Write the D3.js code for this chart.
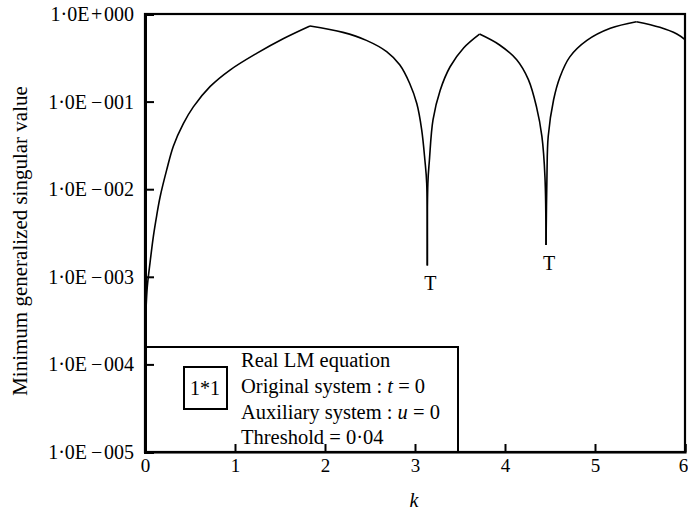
<!DOCTYPE html>
<html>
<head>
<meta charset="utf-8">
<script src="https://cdn.jsdelivr.net/npm/d3@7"></script>
<style>
  html, body { margin: 0; padding: 0; background: #fff; }
  svg { display: block; font-family: "Liberation Serif", "DejaVu Serif", serif; }
</style>
</head>
<body>
<svg id="chart" width="688" height="519"></svg>
<script>
// Wavenumber k
const kValues = [
  0, 0.004, 0.011, 0.026, 0.056, 0.093, 0.13, 0.167, 0.241, 0.315, 0.426, 0.537,
  0.722, 0.944, 1.24, 1.54, 1.833, 2.20, 2.46, 2.685, 2.83, 2.94, 3.02,
  3.074, 3.11, 3.13, 3.137, 3.143, 3.16, 3.20, 3.28, 3.39, 3.54, 3.717,
  3.94, 4.13, 4.26, 4.35, 4.41, 4.444, 4.456, 4.466, 4.48, 4.54, 4.61,
  4.72, 4.91, 5.17, 5.46, 5.72, 5.91, 6.0
];
// Minimum generalized singular value at each k
const sigmaValues = [
  1e-5, 2.5e-4, 4.2e-4, 7.8e-4, 1.45e-3, 2.9e-3, 5.0e-3, 8.1e-3, 1.66e-2, 3.1e-2, 5.6e-2, 8.7e-2,
  0.148, 0.229, 0.355, 0.525, 0.73, 0.617, 0.50, 0.372, 0.263, 0.162, 0.095,
  0.048, 0.0214, 0.0117, 0.00135, 0.0117, 0.0214, 0.062, 0.135, 0.25, 0.41, 0.59,
  0.443, 0.30, 0.178, 0.087, 0.040, 0.0138, 0.0023, 0.0138, 0.040, 0.105, 0.19,
  0.324, 0.50, 0.687, 0.817, 0.705, 0.59, 0.51
];
// k values where two branches meet (sharp corners of the curve)
const cornerK = [1.833, 3.137, 3.717, 4.456, 5.46];
// Axis ticks
const yTicks = [1e0, 1e-1, 1e-2, 1e-3, 1e-4, 1e-5];
const yTickLabels = ["1·0E\u200A+\u200A000", "1·0E\u2009−\u200A001", "1·0E\u2009−\u200A002",
                     "1·0E\u2009−\u200A003", "1·0E\u2009−\u200A004", "1·0E\u2009−\u200A005"];
const xTicks = [0, 1, 2, 3, 4, 5, 6];
// Marked transmission points
const markK = [3.137, 4.456];
const markSigma = [0.00135, 0.0023];

const svg = d3.select("#chart");
const m = { left: 145, top: 14, right: 3, bottom: 67 };
const W = 688, H = 519;
const x = d3.scaleLinear().domain([0, 6]).range([m.left, W - m.right]);
const y = d3.scaleLog().domain([1e-5, 1]).range([H - m.bottom, m.top]);

const data = kValues.map((k, i) => ({ k, s: sigmaValues[i] }));

// split the curve into smooth branches at the corners
const branches = [];
let cur = [];
data.forEach(d => {
  cur.push(d);
  if (cornerK.includes(d.k)) { branches.push(cur); cur = [d]; }
});
if (cur.length > 1) branches.push(cur);

const line = d3.line()
  .x(d => x(d.k))
  .y(d => y(d.s))
  .curve(d3.curveCatmullRom.alpha(0.5));
svg.append("g").selectAll("path")
  .data(branches)
  .join("path")
  .attr("d", line)
  .attr("fill", "none")
  .attr("stroke", "#000")
  .attr("stroke-width", 1.6)
  .attr("stroke-linejoin", "miter");

// legend box
const lg = svg.append("g");
lg.append("rect")
  .attr("x", x(0)).attr("y", 347)
  .attr("width", 313).attr("height", y(1e-5) - 347)
  .attr("fill", "none").attr("stroke", "#000").attr("stroke-width", 2);
lg.append("rect")
  .attr("x", 184).attr("y", 367).attr("width", 43).attr("height", 42)
  .attr("fill", "none").attr("stroke", "#000").attr("stroke-width", 2);
lg.append("text").attr("x", 205).attr("y", 395).attr("text-anchor", "middle")
  .attr("font-size", 20).text("1*1");
const legendLines = [
  ["Real LM equation"],
  ["Original system : ", ["t", true], " = 0"],
  ["Auxiliary system : ", ["u", true], " = 0"],
  ["Threshold = 0·04"]
];
const legendBase = [367, 393, 419, 444];
legendLines.forEach((parts, i) => {
  const t = lg.append("text").attr("x", 241).attr("y", legendBase[i]).attr("font-size", 20.5);
  parts.forEach(p => {
    if (Array.isArray(p)) t.append("tspan").attr("font-style", "italic").text(p[0]);
    else t.append("tspan").text(p);
  });
});

// frame
svg.append("rect")
  .attr("x", x(0)).attr("y", y(1))
  .attr("width", x(6) - x(0)).attr("height", y(1e-5) - y(1))
  .attr("fill", "none").attr("stroke", "#000").attr("stroke-width", 2.2);

// y axis (ticks inward)
const yAxis = d3.axisLeft(y).tickValues(yTicks).tickSize(-9).tickPadding(11)
  .tickFormat((d, i) => yTickLabels[i]);
const gy = svg.append("g").attr("transform", `translate(${x(0)},0)`).call(yAxis);
gy.select(".domain").attr("stroke-width", 3);
gy.selectAll(".tick line").attr("stroke-width", 2);
gy.selectAll("text").attr("font-size", 20).attr("font-family", "Liberation Serif").attr("fill", "#000");

// x axis (ticks inward)
const xAxis = d3.axisBottom(x).tickValues(xTicks).tickSize(-8).tickPadding(7).tickFormat(d3.format("d"));
const gx = svg.append("g").attr("transform", `translate(0,${y(1e-5)})`).call(xAxis);
gx.select(".domain").attr("stroke-width", 2.2);
gx.selectAll(".tick line").attr("stroke-width", 2);
gx.selectAll("text").attr("font-size", 19).attr("font-family", "Liberation Serif").attr("fill", "#000");
// keep the last label inside the page
gx.selectAll(".tick text").filter(d => d === 6).attr("dx", -2);

// axis titles
svg.append("text")
  .attr("x", 414).attr("y", 507)
  .attr("text-anchor", "middle").attr("font-size", 20).attr("font-style", "italic")
  .text("k");
svg.append("text")
  .attr("transform", `translate(27,241) rotate(-90)`)
  .attr("text-anchor", "middle").attr("font-size", 21)
  .text("Minimum generalized singular value");

// T markers under the dips
markK.forEach((k, i) => {
  svg.append("text")
    .attr("x", x(k) + 3).attr("y", y(markSigma[i]) + 25)
    .attr("text-anchor", "middle").attr("font-size", 20)
    .text("T");
});
</script>
</body>
</html>
